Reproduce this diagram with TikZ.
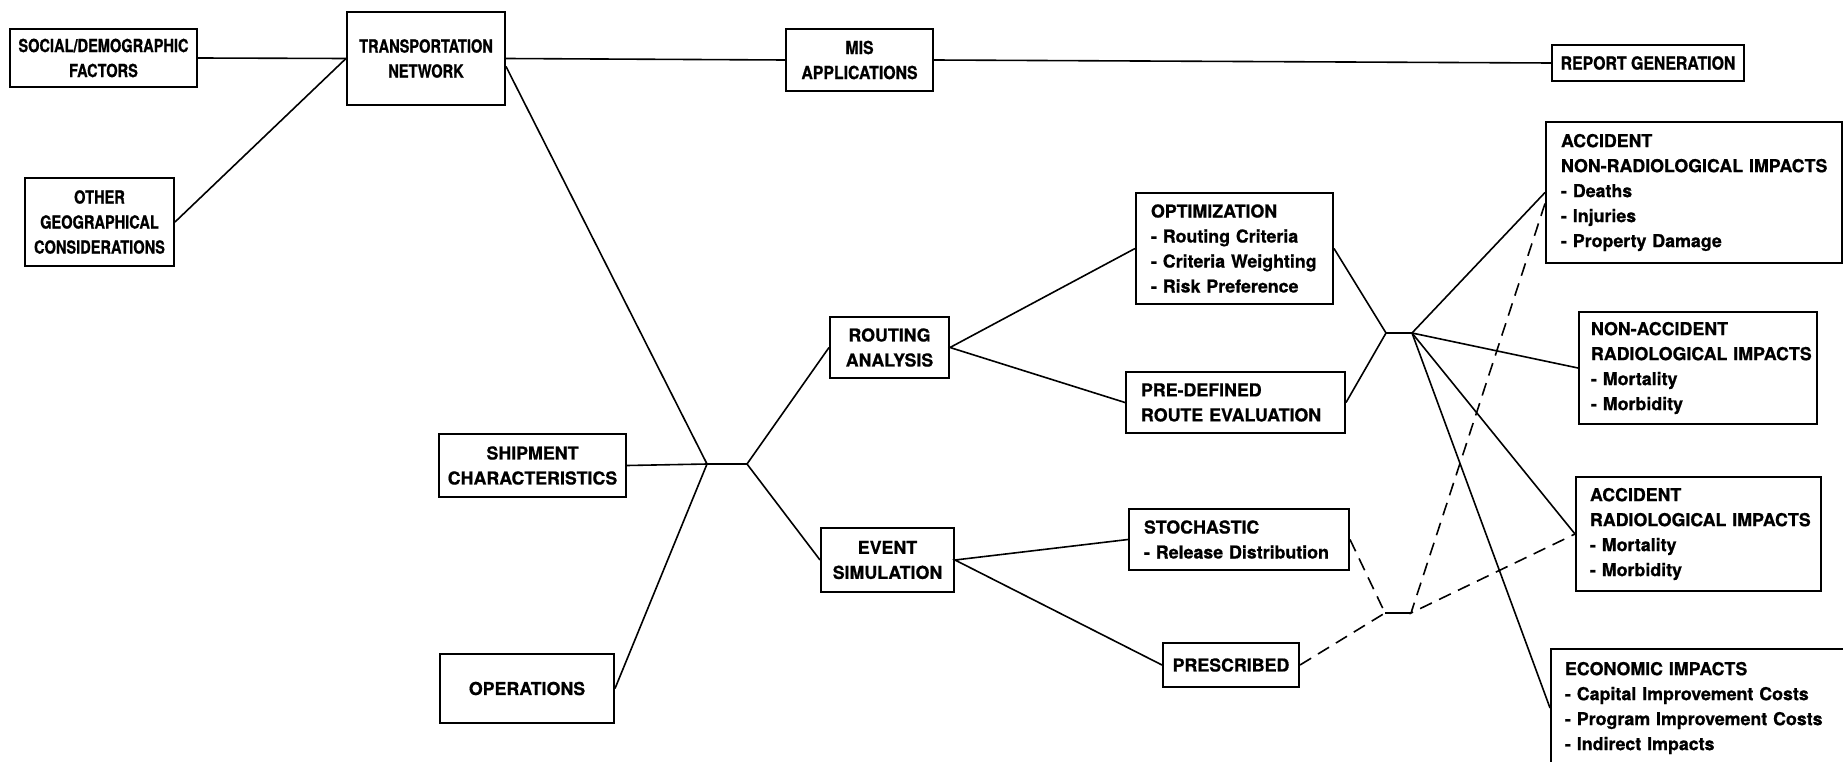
\documentclass[tikz,border=0pt]{standalone}
\usepackage{fontspec}
\setmainfont{TeX Gyre Heros}[BoldFeatures={FakeBold=0.8}]
\newfontfamily\condfont{TeX Gyre Heros}[FakeStretch=0.81, BoldFeatures={FakeBold=0.8}]
\newfontfamily\semicondfont{TeX Gyre Heros}[FakeStretch=0.88, BoldFeatures={FakeBold=0.8}]
\begin{document}
\begin{tikzpicture}[x=1pt,y=-1pt,
  base/.style={draw, line width=2pt, anchor=north west,
    font=\fontsize{17.8}{25}\selectfont\bfseries},
  cbox/.style={base, align=center, inner sep=2pt},
  lbox/.style={base, align=left, inner xsep=15pt, inner ysep=0pt,
    execute at begin node={\hyphenpenalty=10000\exhyphenpenalty=10000\hbadness=10000\hfuzz=50pt}},
  narrow/.style={font=\fontsize{18}{25}\selectfont\condfont\bfseries},
  seminarrow/.style={font=\fontsize{18}{25}\selectfont\semicondfont\bfseries},
  link/.style={line width=1.6pt},
  dlink/.style={link, dash pattern=on 13pt off 8pt},
]
\useasboundingbox (0,0) rectangle (1843,762);

% input side
\node[cbox, narrow, minimum width=187pt, minimum height=58pt] (soc) at (9,28) {SOCIAL/DEMOGRAPHIC\\FACTORS};
\node[cbox, narrow, minimum width=149pt, minimum height=88pt] (oth) at (24,177) {OTHER\\GEOGRAPHICAL\\CONSIDERATIONS};
\node[cbox, narrow, minimum width=158pt, minimum height=93pt] (trn) at (346,11) {TRANSPORTATION\\NETWORK};
\node[cbox, seminarrow, minimum width=147pt, minimum height=62pt] (mis) at (785,28) {MIS\\APPLICATIONS};
\node[cbox, seminarrow, minimum width=192pt, minimum height=36pt] (rep) at (1551,44) {REPORT GENERATION};
\node[cbox, minimum width=187pt, minimum height=63pt] (ship) at (438,433) {SHIPMENT\\CHARACTERISTICS};
\node[cbox, minimum width=174pt, minimum height=69pt] (ops) at (439,653) {OPERATIONS};

% analysis stages
\node[cbox, minimum width=119pt, minimum height=61pt] (rout) at (829,316) {ROUTING\\ANALYSIS};
\node[cbox, minimum width=133pt, minimum height=64pt] (evt) at (820,527) {EVENT\\SIMULATION};
\node[lbox, text width=167pt, minimum height=111pt] (opt) at (1135,192) {OPTIMIZATION\\\mbox{- Routing Criteria}\\\mbox{- Criteria Weighting}\\\mbox{- Risk Preference}};
\node[lbox, text width=189pt, minimum height=61pt] (pre) at (1125,371) {PRE-DEFINED\\\mbox{ROUTE EVALUATION}};
\node[lbox, text width=190pt, minimum height=61pt] (sto) at (1128,508) {STOCHASTIC\\\mbox{- Release Distribution}};
\node[cbox, minimum width=136pt, minimum height=44pt] (pres) at (1162,642) {PRESCRIBED};

% impacts
\node[lbox, text width=266pt, minimum height=141pt] (anr) at (1545,121) {ACCIDENT\\\mbox{NON-RADIOLOGICAL IMPACTS}\\- Deaths\\- Injuries\\\mbox{- Property Damage}};
\node[lbox, inner xsep=12pt, text width=214pt, minimum height=112pt] (nacc) at (1578,311) {NON-ACCIDENT\\\mbox{RADIOLOGICAL IMPACTS}\\- Mortality\\- Morbidity};
\node[lbox, inner xsep=14pt, text width=217pt, minimum height=114pt] (arad) at (1575,476) {ACCIDENT\\\mbox{RADIOLOGICAL IMPACTS}\\- Mortality\\- Morbidity};
\node[lbox, inner xsep=14pt, text width=265pt, minimum height=118pt] (econ) at (1550,648) {\mbox{ECONOMIC IMPACTS}\\\mbox{- Capital Improvement Costs}\\\mbox{- Program Improvement Costs}\\\mbox{- Indirect Impacts}};

% branch points
\coordinate (j1) at (707,464);
\coordinate (j2) at (747,464);
\coordinate (j3) at (1386,333);
\coordinate (j4) at (1412,333);
\coordinate (j5) at (1385,613);
\coordinate (j6) at (1411,613);

% connectors
\draw[link] (soc.east) -- (trn.west);
\draw[link] (oth.east) -- (trn.west);
\draw[link] (trn.east) -- (mis.west);
\draw[link] (mis.east) -- (rep.west);
\draw[link] ([yshift=-8pt]trn.east) -- (j1);
\draw[link] (ship.east) -- (j1) -- (j2);
\draw[link] (ops.east) -- (j1);
\draw[link] (rout.west) -- (j2) -- (evt.west);
\draw[link] (opt.west) -- (rout.east) -- (pre.west);
\draw[link] (opt.east) -- (j3) -- (pre.east);
\draw[link] (j3) -- (j4);
\draw[link] (j4) -- (anr.west);
\draw[link] (j4) -- (nacc.west);
\draw[link] (j4) -- (arad.west);
\draw[link] (j4) -- (econ.west);
\draw[link] (sto.west) -- (evt.east) -- (pres.west);
\draw[dlink] (sto.east) -- (j5) -- (pres.east);
\draw[link] (j5) -- (j6);
\draw[dlink] ([yshift=-11pt]anr.west) -- (j6) -- (arad.west);
\end{tikzpicture}
\end{document}
